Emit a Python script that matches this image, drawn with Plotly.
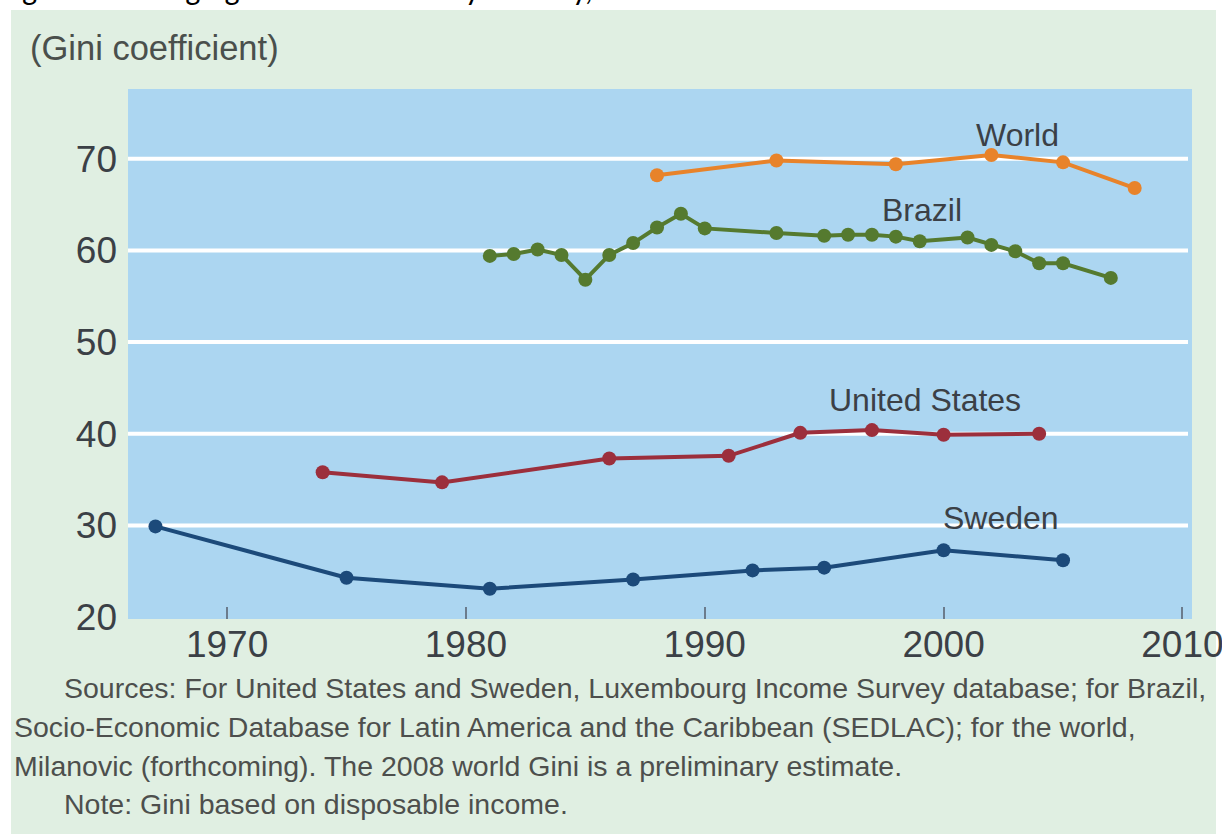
import plotly.graph_objects as go

# Gini coefficient series
world_years = [1988, 1993, 1998, 2002, 2005, 2008]
world_gini = [68.2, 69.8, 69.4, 70.4, 69.6, 66.8]

brazil_years = [1981, 1982, 1983, 1984, 1985, 1986, 1987, 1988, 1989, 1990,
                1993, 1995, 1996, 1997, 1998, 1999, 2001, 2002, 2003, 2004,
                2005, 2007]
brazil_gini = [59.4, 59.6, 60.1, 59.5, 56.8, 59.5, 60.8, 62.5, 64.0, 62.4,
               61.9, 61.6, 61.7, 61.7, 61.5, 61.0, 61.4, 60.6, 59.9, 58.6,
               58.6, 57.0]

us_years = [1974, 1979, 1986, 1991, 1994, 1997, 2000, 2004]
us_gini = [35.8, 34.7, 37.3, 37.6, 40.1, 40.4, 39.9, 40.0]

sweden_years = [1967, 1975, 1981, 1987, 1992, 1995, 2000, 2005]
sweden_gini = [29.9, 24.3, 23.1, 24.1, 25.1, 25.4, 27.3, 26.2]

y_ticks = [20, 30, 40, 50, 60, 70]
x_ticks = [1970, 1980, 1990, 2000, 2010]

# page geometry (pixels)
W, H = 1222, 834
L, R, T, B = 128, 1192, 89, 619

def px_x(p):
    return (p - L) / (R - L)

def px_y(p):
    return (B - p) / (B - T)

FONT = "Liberation Sans, Arial, sans-serif"
TXT = "#3b4046"

series = [
    ("World", world_years, world_gini, "#e8832a", 2003.1, 72.6),
    ("Brazil", brazil_years, brazil_gini, "#557a2f", 1999.1, 64.4),
    ("United States", us_years, us_gini, "#9c2f3c", 1999.2, 43.7),
    ("Sweden", sweden_years, sweden_gini, "#1c4a7a", 2002.4, 30.8),
]

fig = go.Figure()
for name, xs, ys, col, lx, ly in series:
    fig.add_trace(go.Scatter(
        x=xs, y=ys, mode="lines+markers", name=name,
        line=dict(color=col, width=4),
        marker=dict(color=col, size=14),
        cliponaxis=False,
    ))
    fig.add_annotation(x=lx, y=ly, text=name, showarrow=False,
                       font=dict(family=FONT, size=32, color=TXT))

shapes = []
# white strips around the green panel
shapes.append(dict(type="rect", xref="paper", yref="paper", layer="below",
                   x0=px_x(-5), x1=px_x(W + 5), y0=px_y(10), y1=px_y(-5),
                   fillcolor="white", line_width=0))
shapes.append(dict(type="rect", xref="paper", yref="paper", layer="below",
                   x0=px_x(-5), x1=px_x(11), y0=px_y(H + 5), y1=px_y(-5),
                   fillcolor="white", line_width=0))
shapes.append(dict(type="rect", xref="paper", yref="paper", layer="below",
                   x0=px_x(1216), x1=px_x(W + 5), y0=px_y(H + 5), y1=px_y(-5),
                   fillcolor="white", line_width=0))
# white gridlines
for v in y_ticks[1:]:
    shapes.append(dict(type="line", xref="paper", yref="y", layer="below",
                       x0=0, x1=px_x(1188), y0=v, y1=v,
                       line=dict(color="white", width=4)))

# figure title, cut off by the top edge as in the original
fig.add_annotation(xref="paper", yref="paper", x=px_x(-2), y=px_y(11),
                   xanchor="left", yanchor="bottom", showarrow=False,
                   text="Figure 3. Changing Gini coefficient by country, 1960-2008",
                   font=dict(family="Carlito, Liberation Sans, Arial", size=32, color="black"))

fig.add_annotation(xref="paper", yref="paper", x=px_x(28), y=px_y(48),
                   xanchor="left", yanchor="middle", showarrow=False,
                   text="(Gini coefficient)",
                   font=dict(family=FONT, size=34.5, color="#4a4f4c"))

notes = [
    (62, 688, "Sources: For United States and Sweden, Luxembourg Income Survey database; for Brazil,"),
    (12, 727, "Socio-Economic Database for Latin America and the Caribbean (SEDLAC); for the world,"),
    (12, 766, "Milanovic (forthcoming). The 2008 world Gini is a preliminary estimate."),
    (62, 804, "Note: Gini based on disposable income."),
]
for nx, ny, t in notes:
    fig.add_annotation(xref="paper", yref="paper", x=px_x(nx), y=px_y(ny),
                       xanchor="left", yanchor="middle", showarrow=False,
                       text=t, font=dict(family=FONT, size=28.5, color="#4d4f4d"))

fig.update_layout(
    width=W, height=H,
    margin=dict(l=L, r=W - R, t=T, b=H - B, autoexpand=False),
    paper_bgcolor="#e0efe2",
    plot_bgcolor="#acd6f1",
    showlegend=False,
    shapes=shapes,
    font=dict(family=FONT, color=TXT),
)
fig.update_xaxes(range=[1965.85, 2010.4], tickvals=x_ticks, showgrid=False,
                 zeroline=False, showline=False, ticks="inside", ticklen=12,
                 tickwidth=2, tickcolor="#6b7b8c", ticklabelstandoff=0,
                 ticklabeloverflow="allow", automargin=False,
                 tickfont=dict(family=FONT, size=37, color=TXT))
fig.update_yaxes(range=[19.8, 77.6], tickvals=y_ticks, showgrid=False,
                 zeroline=False, showline=False, ticks="", ticklabelstandoff=10,
                 automargin=False,
                 tickfont=dict(family=FONT, size=37, color=TXT))

fig.write_html("out.html", config={"displayModeBar": False},
               post_script="document.body.style.margin='0';document.body.style.overflow='hidden';")
